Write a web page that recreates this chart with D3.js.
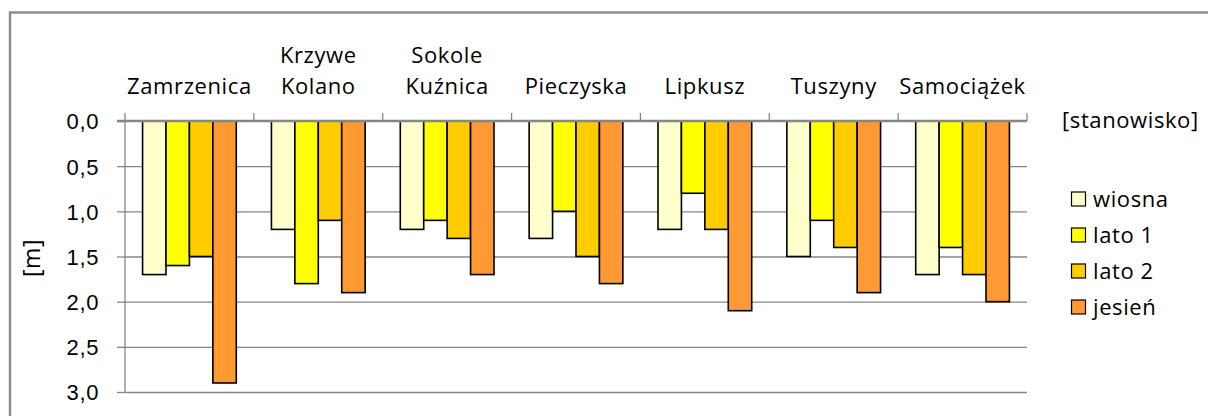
<!DOCTYPE html>
<html>
<head>
<meta charset="utf-8">
<script src="https://cdn.jsdelivr.net/npm/d3@7"></script>
<style>
  body { margin:0; background:#fff; }
  svg { display:block; font-family: "Open Sans", Lato, sans-serif; }
  svg text { letter-spacing:0.6px; }
  .grid line { stroke:#868686; stroke-width:1.3; }
  .grid path { display:none; }
  .yAxis path, .yAxis line { stroke:#868686; stroke-width:1.3; }
  .yAxis text { font-size:22px; fill:#000; }
</style>
</head>
<body>
<svg id="chart" width="1208" height="416"></svg>
<script>
// stations, two-line labels split by "|"
const categories = ["Zamrzenica","Krzywe|Kolano","Sokole|Kuźnica","Pieczyska","Lipkusz","Tuszyny","Samociążek"];
const seriesNames = ["wiosna","lato 1","lato 2","jesień"];
const seriesColours = ["#ffffcc","#ffff00","#ffcc00","#ff9933"];
const wiosna = [1.7,1.2,1.2,1.3,1.2,1.5,1.7];
const lato1  = [1.6,1.8,1.1,1.0,0.8,1.1,1.4];
const lato2  = [1.5,1.1,1.3,1.5,1.2,1.4,1.7];
const jesien = [2.9,1.9,1.7,1.8,2.1,1.9,2.0];
const yTicks = [0,0.5,1,1.5,2,2.5,3];

const values = [wiosna, lato1, lato2, jesien];
const data = categories.map((c,i)=>({
    name:c,
    bars: seriesNames.map((s,j)=>({series:s, value:values[j][i]}))
}));

const svg = d3.select("#chart");

// outer frame
svg.append("rect")
    .attr("x",10).attr("y",12.5)
    .attr("width",1230).attr("height",420)
    .attr("fill","none").attr("stroke","#8c8c8c").attr("stroke-width",2.5);

const plot = {left:125, right:1027, top:121, bottom:392};

const xScale = d3.scaleBand()
    .domain(categories)
    .range([plot.left, plot.right]);

const xInner = d3.scaleBand()
    .domain(seriesNames)
    .range([0, xScale.bandwidth()])
    .paddingInner(0)
    .paddingOuter(0.75);

const yScale = d3.scaleLinear()
    .domain([0,3])
    .range([plot.top, plot.bottom]);

const colourScale = d3.scaleOrdinal()
    .domain(seriesNames)
    .range(seriesColours);

// gridlines
svg.append("g")
    .attr("class","grid")
    .attr("transform","translate("+plot.left+",0)")
    .call(d3.axisLeft(yScale).tickValues(yTicks.slice(1)).tickSize(-(plot.right-plot.left)).tickFormat(""));

// y axis with labels
const fmt = d3.format(".1f");
const yAxis = svg.append("g")
    .attr("class","axis yAxis")
    .attr("transform","translate("+plot.left+",0)")
    .call(d3.axisLeft(yScale).tickValues(yTicks).tickSize(8).tickPadding(18)
        .tickFormat(d=>fmt(d).replace(".",",")));
yAxis.select(".domain").attr("d","M0,"+plot.top+"V"+plot.bottom);
yAxis.selectAll("text").attr("dy","0.36em");

// bars
const groups = svg.selectAll(".group")
    .data(data)
    .enter().append("g")
    .attr("class","group")
    .attr("transform",d=>"translate("+xScale(d.name)+",0)");

groups.selectAll("rect")
    .data(d=>d.bars)
    .enter().append("rect")
    .attr("x",d=>xInner(d.series))
    .attr("y",yScale(0))
    .attr("width",xInner.bandwidth())
    .attr("height",d=>yScale(d.value)-yScale(0))
    .attr("fill",d=>colourScale(d.series))
    .attr("stroke","#000")
    .attr("stroke-width",1.6);

// category axis at top (value 0)
const xAxis = svg.append("g")
    .attr("class","axis xAxis");
xAxis.append("line")
    .attr("x1",plot.left-8).attr("x2",plot.right)
    .attr("y1",yScale(0)).attr("y2",yScale(0))
    .attr("stroke","#868686").attr("stroke-width",2.5);
const bounds = categories.map(c=>xScale(c)).concat([plot.right]);
xAxis.selectAll(".ctick")
    .data(bounds)
    .enter().append("line")
    .attr("x1",d=>d).attr("x2",d=>d)
    .attr("y1",yScale(0)-8).attr("y2",yScale(0))
    .attr("stroke","#868686").attr("stroke-width",1.3);

// category labels, bottom aligned
const labels = svg.selectAll(".clabel")
    .data(categories)
    .enter().append("text")
    .attr("class","clabel")
    .attr("text-anchor","middle")
    .attr("font-size",22)
    .attr("x",d=>xScale(d)+xScale.bandwidth()/2);
labels.each(function(d){
    const lines = d.split("|");
    const sel = d3.select(this);
    lines.forEach((l,i)=>{
        sel.append("tspan")
            .attr("x",xScale(d)+xScale.bandwidth()/2)
            .attr("y",94-(lines.length-1-i)*31)
            .text(l);
    });
});

// axis titles
svg.append("text")
    .attr("transform","translate(40,258) rotate(-90)")
    .attr("text-anchor","middle")
    .attr("font-size",23)
    .text("[m]");
svg.append("text")
    .attr("x",1062).attr("y",128)
    .attr("font-size",22)
    .text("[stanowisko]");

// legend
const legend = svg.selectAll(".legend")
    .data(seriesNames)
    .enter().append("g")
    .attr("class","legend")
    .attr("transform",(d,i)=>"translate(1071,"+(199+i*36)+")");
legend.append("rect")
    .attr("x",0.5).attr("y",-7)
    .attr("width",14).attr("height",14)
    .attr("fill",d=>colourScale(d))
    .attr("stroke","#000").attr("stroke-width",1.2);
legend.append("text")
    .attr("x",22).attr("dy","0.36em")
    .attr("font-size",22)
    .text(d=>d);
</script>
</body>
</html>
